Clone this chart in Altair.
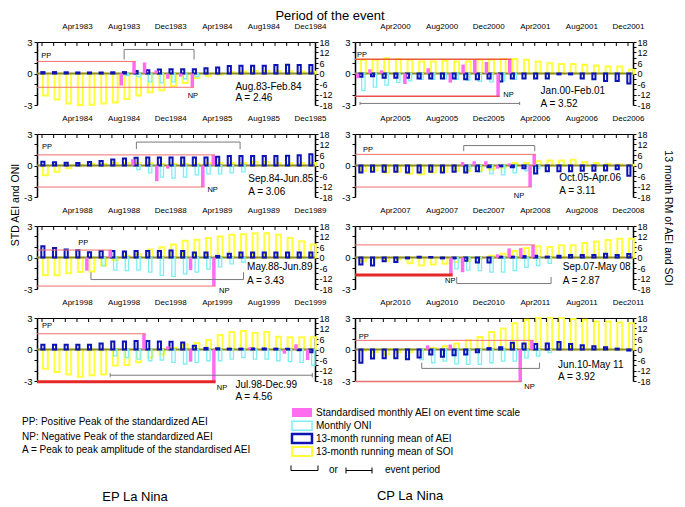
import altair as alt
import pandas as pd

FONT = "Liberation Sans"

# ---------------- data ----------------
panel_years = [(1983, 1984), (1984, 1985), (1988, 1989), (1998, 1999),
               (2000, 2001), (2005, 2006), (2007, 2008), (2010, 2011)]
label_months = [3, 7, 11, 15, 19, 23]
label_names = ["Apr", "Aug", "Dec", "Apr", "Aug", "Dec"]
event_periods = ["Aug.83-Feb.84", "Sep.84-Jun.85", "May.88-Jun.89", "Jul.98-Dec.99",
                 "Jan.00-Feb.01", "Oct.05-Apr.06", "Sep.07-May 08", "Jun.10-May 11"]
amplitudes = ["2.46", "3.06", "3.43", "4.56", "3.52", "3.11", "2.87", "3.92"]

# 13-month running mean of SOI (right axis), Jan of first year .. Dec of second year
soi_1983 = [-12.6, -14.9, -17.2, -18, -17.8, -17.2, -16.5, -14.6, -12.6, -10.7, -9.6, -7.2,
            -5.4, -2.5, -1.5, -0.6, 0.8, 1.2, 1.5, 1.5, 1.5, 1.5, 1.2, 1.0]
soi_1984 = [-5.5, -3.5, -1.5, 0.5, 1, 1, 1.5, 1.5, 1.5, 1.5, 1, 1,
            1, 1, 1.5, 1.5, 1.5, 1.5, 2, 2, 1.5, 1.5, 1.5, 1.5]
soi_1988 = [-10, -10.2, -9, -8.3, -8, -4.6, -1.5, 1, 2.2, 4.6, 5.9, 7.4,
            9.6, 10.2, 11.1, 12, 13, 13.3, 13.9, 13.9, 13, 11.1, 9.3, 7.4]
soi_1998 = [-11, -12.8, -14.3, -15.6, -14.7, -14.3, -9.2, -8.8, -7.3, -4.6, -2.8, 1,
            2.8, 3.7, 5.5, 8.3, 10, 10.6, 9.5, 10, 7.3, 7, 7, 7]
soi_2000 = [7.8, 7.8, 8.7, 8.3, 7.8, 6.9, 6.9, 7.2, 6.9, 6.9, 7.8, 7.8,
            8.3, 8.3, 7.8, 6.9, 5.9, 5.4, 5.4, 5.0, 4.6, 4.0, 4.0, 2.2]
soi_2005 = [-3.1, -2.8, -4.0, -3.5, -4.6, -5.0, -4.0, -3.5, -3.1, -3.1, -2.8, -2.2,
            -1.3, 1.5, 1.5, 2.4, 2.8, 2.8, 3.3, 2.0, 1.5, 1.0, 0.6, 0.4]
soi_2007 = [-2.2, -0.5, -2.0, -1.0, -3.3, -4.6, -4.0, -3.5, -2.5, -1.9, -0.5, 1.0,
            2.2, 3.7, 5.5, 6.5, 6.0, 7.0, 7.0, 8.3, 9.2, 10.0, 10.7, 10.7]
soi_2010 = [-0.5, -1.5, -2.8, -1.5, -1.5, -0.4, 0.9, 1.8, 3.4, 5.3, 7.2, 10,
            12, 15, 17, 18, 18, 18, 17.5, 17, 16, 16, 15.5, 15]

# 13-month running mean of AEI (right axis)
aei_1983 = [0.8, 0.8, 0.7, 0.6, 0.6, 0.6, 0.7, 0.8, 1.5, 1.9, 2.3, 2.5,
            2.5, 2.5, 3.0, 3.5, 4.3, 4.5, 4.5, 4.5, 4.8, 5.0, 4.8, 4.8]
aei_1984 = [2.2, 1.8, 1.6, 1.4, 2.0, 2.6, 3.4, 4.0, 4.4, 4.6, 4.6, 4.6,
            4.6, 4.6, 4.6, 5.0, 5.4, 5.4, 5.4, 5.4, 5.4, 5.6, 5.8, 6.4]
aei_1988 = [6.5, 5.5, 4.6, 4.1, 3.0, 3.7, 3.7, 3.5, 3.7, 3.7, 3.7, 4.0,
            3.7, 2.8, 2.8, 0.9, 2.2, 2.8, 2.8, 2.8, 2.8, 2.8, 2.8, 2.8]
aei_1998 = [2.75, 2.75, 2.75, 2.75, 2.75, 3.5, 4.6, 4.6, 4.8, 4.8, 4.6, 4.4,
            4.0, 2.2, 0.9, 0.7, 0.5, 0.5, 0.6, 0.6, 0.5, 0.4, -0.4, -1.5]
aei_2000 = [-1.85, -1.5, -2.4, -2.4, -2.4, -2.8, -2.9, -2.9, -2.8, -3.3, -3.3, -2.8,
            -4.6, -2.8, -2.8, -2.8, -2.8, -0.5, -0.5, -2.8, -3.3, -4.3, -4.3, -5.7]
aei_2005 = [-4.0, -3.5, -3.5, -3.5, -4.0, -4.0, -3.5, -4.0, -3.5, -4.0, -3.3, -1.0,
            -0.5, -1.0, -1.5, -4.6, -3.3, -3.3, -3.3, -3.0, -3.0, -2.8, -2.2, -5.9]
aei_2007 = [-4.0, -4.6, -2.2, -2.5, -0.5, 0.5, 0.3, -0.5, -0.5, -1.9, -2.8, -2.8,
            0.5, 0.5, 0.8, 1.0, 0.5, 1.0, 1.5, 1.5, 1.5, 2.2, 1.5, 2.0]
aei_2010 = [-7.5, -5.2, -5.0, -5.0, -5.5, -4.6, -2.8, -4.1, -3.3, -2.8, -1.5, 0.8,
            1.3, 3.8, 3.5, 3.2, 3.5, 4.3, 3.2, 2.5, 1.9, 1.3, 0.5, -0.6]

# monthly ONI (left axis), only inside the event window
oni_1983 = [None, None, None, None, None, None, None, -0.2, -0.3, -0.8, -0.9, -0.8,
            -0.5, -0.3, None, None, None, None, None, None, None, None, None, None]
oni_1984 = [None, None, None, None, None, None, None, None, -0.4, -0.7, -1.1, -1.2,
            -1.1, -0.9, -0.8, -0.8, -0.7, -0.6, None, None, None, None, None, None]
oni_1988 = [None, None, None, None, None, -0.8, -1.2, -1.25, -1.2, -1.4, -1.7, -1.8,
            -1.55, -1.4, -1.1, -0.9, -0.6, -0.45, None, None, None, None, None, None]
oni_1998 = [None, None, None, None, None, None, -0.6, -0.76, -0.92, -1.07, -1.0, -1.22,
            -1.38, -1.22, -1.07, -1.07, -0.92, -0.76, -0.92, -0.92, -1.07, -1.15, -1.22, -1.5]
oni_2000 = [-1.6, -1.3, -1.1, -0.85, -0.7, -0.55, -0.55, -0.5, -0.55, -0.65, -0.75, -0.8,
            -0.7, -0.55, None, None, None, None, None, None, None, None, None, None]
oni_2005 = [None, None, None, None, None, None, None, None, None, -0.4, -0.6, -0.8,
            -0.9, -0.7, -0.5, -0.3, None, None, None, None, None, None, None, None]
oni_2007 = [None, None, None, None, None, None, None, None, -1.08, -1.2, -1.25, -1.4,
            -1.4, -1.25, -0.93, -0.77, -0.55, None, None, None, None, None, None, None]
oni_2010 = [None, None, None, None, None, -0.95, -1.26, -1.1, -1.36, -1.42, -1.42, -1.26,
            -1.1, -1.1, -0.8, -0.63, -0.3, None, None, None, None, None, None, None]

# standardised monthly AEI on event time scale (left axis): month position, value
std_x_1983 = [6.8, 7.9, 8.8, 9.8, 10.8, 11.9, 12.9]
std_v_1983 = [-1.15, 1.15, 1.05, 0.3, -0.5, -0.3, -1.31]
std_x_1984 = [7.8, 9.85, 10.8, 13.8, 14.7]
std_v_1984 = [0.6, -1.5, -0.3, -2.05, 1.01]
std_x_1988 = [3.85, 5.85, 12.75, 14.75]
std_v_1988 = [-1.25, 0.71, -1.2, -2.72]
std_x_1998 = [8.75, 10.8, 12.75, 14.75, 17.8, 20.8, 21.8, 22.8]
std_v_1998 = [1.5, 0.3, -1.16, -3.06, 0.2, -0.4, 0.5, -1.0]
std_x_2000 = [-0.2, 0.85, 1.85, 3.85, 5.85, 7.75, 8.85, 9.85, 10.85, 11.85, 12.85]
std_v_2000 = [-0.45, 0.4, 0.3, -1.0, 0.5, -0.87, 0.84, 1.3, 1.1, -2.17, 1.35]
std_x_2005 = [8.8, 9.8, 10.8, 11.8, 12.8, 14.6, 14.95]
std_v_2005 = [0.33, 0.4, 0.4, -0.3, 0.2, -2.05, 1.06]
std_x_2007 = [7.8, 8.8, 11.8, 12.8, 13.8, 14.85]
std_v_2007 = [-1.67, -1.4, 0.3, 0.87, 0.9, 1.2]
std_x_2010 = [5.8, 7.75, 13.75, 14.75]
std_v_2010 = [0.4, 0.47, -3.05, 0.87]

# event-period brackets: start month, end month
bracket_start = [7.05, 8.1, 4.2, 5.85, 0.0, 8.9, 8.3, 5.3]
bracket_end = [13.05, 17.0, 17.3, 23.2, 13.7, 15.0, 16.4, 15.4]

soi_all = [soi_1983, soi_1984, soi_1988, soi_1998, soi_2000, soi_2005, soi_2007, soi_2010]
aei_all = [aei_1983, aei_1984, aei_1988, aei_1998, aei_2000, aei_2005, aei_2007, aei_2010]
oni_all = [oni_1983, oni_1984, oni_1988, oni_1998, oni_2000, oni_2005, oni_2007, oni_2010]
stdx_all = [std_x_1983, std_x_1984, std_x_1988, std_x_1998, std_x_2000, std_x_2005, std_x_2007, std_x_2010]
stdv_all = [std_v_1983, std_v_1984, std_v_1988, std_v_1998, std_v_2000, std_v_2005, std_v_2007, std_v_2010]

# ---------------- layout / style (not data) ----------------
W, H = 278, 63
X0, X1 = -0.43, 23.43
YELLOW, CYAN, BLUE, MAGENTA = "#ffff3c", "#7eeef4", "#0c14b4", "#ff6cf0"
OLIVE, RED_THIN, RED_THICK, GRAY = "#8c8c28", "#f07070", "#e42828", "#7a7a7a"

bracket_style = [("top", 2.29, 1.33), ("top", 2.23, 1.56), ("bottom", -2.1, -1.4), ("bar", -2.45, 0.2),
                 ("bar", -2.85, 0.15), ("top", 1.9, 1.36), ("bottom", -2.48, -1.86), ("bottom", -1.8, -1.25)]
period_pos = [(16.6, -1.27, -2.32), (17.7, -1.27, -2.5), (17.6, -0.92, -2.26), (16.6, -3.4, -4.54),
              (15.5, -1.65, -2.9), (17.1, -1.18, -2.45), (17.4, -0.95, -2.2), (17.0, -1.46, -2.6)]
pp_pos = [(-0.06, 1.69), (0.0, 1.78), (3.1, 1.36), (0.0, 2.2), (-0.26, 1.78), (0.26, 1.52), None, (-0.1, 1.18)]
np_pos = [(12.9, -2.15), (14.6, -2.34), (15.6, -3.18), (15.4, -3.66), (12.7, -2.06), (13.6, -2.93),
          (7.7, -2.23), (14.5, -3.6)]
red_style = [(1, 1, RED_THIN, RED_THIN), (1, 1, RED_THIN, RED_THIN), (1, 1, RED_THIN, RED_THIN),
             (1, 3, RED_THIN, RED_THICK), (1.5, 1.5, "#e85a3a", "#e85050"), (1, 1, RED_THIN, RED_THIN),
             (1, 3, RED_THIN, RED_THICK), (1, 1.5, RED_THIN, "#e87070")]

XS = alt.Scale(domain=[X0, X1], nice=False, zero=False)
LS = alt.Scale(domain=[-3, 3], nice=False, zero=False)
RS = alt.Scale(domain=[-18, 18], nice=False, zero=False)

LEFT_AXIS = alt.Axis(orient="left", values=[-3, -2, -1, 0, 1, 2, 3],
                     labelExpr="datum.value % 3 == 0 ? '' + datum.value : ''",
                     tickSize=3, tickColor="black", domainColor="black", domainWidth=1.5,
                     labelFontSize=9.5, labelFont=FONT, labelColor="black", labelPadding=2,
                     labelOverlap=False, labelFlush=False, grid=False, title="")
RIGHT_AXIS = alt.Axis(orient="right", values=list(range(-18, 19, 3)),
                      labelExpr="datum.value % 6 == 0 ? '' + datum.value : ''",
                      tickSize=3, tickColor="black", domainColor="black", domainWidth=1.5,
                      labelFontSize=9, labelFont=FONT, labelColor="black", labelPadding=1,
                      labelOverlap=False, labelFlush=False, grid=False, title="")

ONE = pd.DataFrame({"a": [0]})


def top_axis(k):
    y1, y2 = panel_years[k]
    labels = [f"{n}{y1 if j < 3 else y2}" for j, n in enumerate(label_names)]
    expr = "[" + ",".join(f"'{s}'" for s in labels) + "][round((datum.value - 3) / 4)]"
    return alt.Axis(orient="top", values=label_months, labelExpr=expr, ticks=False, tickSize=0,
                    domain=True, domainColor="black", domainWidth=1, labelFontSize=8, labelFont=FONT,
                    labelColor="black", labelPadding=12, labelFlush=False, labelOverlap=False,
                    grid=False, title="")


def ptext(text, x, y, size=10, align="left", angle=None):
    kw = dict(text=text, align=align, baseline="middle", fontSize=size, font=FONT, color="black")
    if angle is not None:
        kw["angle"] = angle
    return alt.Chart(ONE).mark_text(**kw).encode(x=alt.value(x), y=alt.value(y))


def prect(x1, x2, y1, y2, **kw):
    return alt.Chart(ONE).mark_rect(**kw).encode(x=alt.value(x1), x2=alt.value(x2),
                                                 y=alt.value(y1), y2=alt.value(y2))


def prule(x1, x2, y1, y2, color="black", width=1):
    return alt.Chart(ONE).mark_rule(color=color, strokeWidth=width).encode(
        x=alt.value(x1), x2=alt.value(x2), y=alt.value(y1), y2=alt.value(y2))


def panel(k, extra=()):
    xa = top_axis(k)

    def X(f):
        return alt.X(f, type="quantitative", scale=XS, axis=xa)

    df = pd.DataFrame({"i": list(range(24)), "soi": soi_all[k], "aei": aei_all[k], "oni": oni_all[k]})

    yellow = alt.Chart(df).transform_calculate(xa="datum.i + 0.08", xb="datum.i + 0.5").mark_rect(
        fillOpacity=0, stroke=YELLOW, strokeWidth=2).encode(
        x=X("xa"), x2="xb:Q", y=alt.Y("soi:Q", scale=RS, axis=RIGHT_AXIS), y2=alt.datum(0))

    zero = alt.Chart(ONE).mark_rule(color=OLIVE, strokeWidth=2).encode(
        x=alt.value(0), x2=alt.value(W),
        y=alt.YDatum(0, type="quantitative", scale=LS, axis=LEFT_AXIS))

    cyan = alt.Chart(df).transform_filter("isValid(datum.oni)").transform_calculate(
        xa="datum.i + 0.14", xb="datum.i + 0.43").mark_rect(
        fillOpacity=0, stroke=CYAN, strokeWidth=1.3).encode(
        x=X("xa"), x2="xb:Q", y=alt.Y("oni:Q", scale=LS, axis=None), y2=alt.datum(0))

    blue = alt.Chart(df).transform_calculate(xa="datum.i - 0.06", xb="datum.i + 0.21").mark_rect(
        fillOpacity=0, stroke=BLUE, strokeWidth=2).encode(
        x=X("xa"), x2="xb:Q", y=alt.Y("aei:Q", scale=RS, axis=None), y2=alt.datum(0))

    sx, sv = stdx_all[k], stdv_all[k]
    dm = pd.DataFrame({"m": sx, "v": sv})
    mag = alt.Chart(dm).transform_calculate(xa="datum.m - 0.15", xb="datum.m + 0.15").mark_rect(
        color=MAGENTA).encode(x=X("xa"), x2="xb:Q", y=alt.Y("v:Q", scale=LS, axis=None), y2=alt.datum(0))

    ipp = max(range(len(sv)), key=lambda j: sv[j])
    inp = min(range(len(sv)), key=lambda j: sv[j])
    wp, wn, cp, cn = red_style[k]
    dr = pd.DataFrame({"xa": [X0, X0], "xb": [sx[ipp] + 0.15, sx[inp] + 0.15],
                       "y": [sv[ipp], sv[inp]], "w": [wp, wn], "c": [cp, cn]})
    red = alt.Chart(dr).mark_rule().encode(
        x=X("xa"), x2="xb:Q", y=alt.Y("y:Q", scale=LS, axis=None),
        size=alt.Size("w:Q", scale=None), color=alt.Color("c:N", scale=None))

    kind, yh, yt = bracket_style[k]
    b0, b1 = bracket_start[k], bracket_end[k]
    if kind == "bar":
        segs = [(b0, b1, yh, yh), (b0, b0, yh - yt, yh + yt), (b1, b1, yh - yt, yh + yt)]
    else:
        segs = [(b0, b1, yh, yh), (b0, b0, yh, yt), (b1, b1, yh, yt)]
    db = pd.DataFrame(segs, columns=["x1", "x2", "y1", "y2"])
    br = alt.Chart(db).mark_rule(color=GRAY, strokeWidth=1).encode(
        x=X("x1"), x2="x2:Q", y=alt.Y("y1:Q", scale=LS, axis=None), y2="y2:Q")

    mt = alt.Chart(df).mark_rule(color="black", strokeWidth=1).encode(
        x=X("i"), y=alt.value(0), y2=alt.value(4))

    px, py1, py2 = period_pos[k]
    dt = pd.DataFrame({"x": [px, px], "y": [py1, py2], "t": [event_periods[k], "A = " + amplitudes[k]]})
    txt = alt.Chart(dt).mark_text(align="left", baseline="middle", fontSize=10, font=FONT,
                                  color="black").encode(
        x=X("x"), y=alt.Y("y:Q", scale=LS, axis=None), text="t:N")

    lab_rows = []
    if pp_pos[k] is not None:
        lab_rows.append({"x": pp_pos[k][0], "y": pp_pos[k][1], "t": "PP"})
    lab_rows.append({"x": np_pos[k][0] - 0.4, "y": np_pos[k][1], "t": "NP"})
    dl = pd.DataFrame(lab_rows)
    labs = alt.Chart(dl).mark_text(align="left", baseline="middle", fontSize=7.5, font=FONT,
                                   color="black").encode(
        x=X("x"), y=alt.Y("y:Q", scale=LS, axis=None), text="t:N")

    layers = [yellow, zero, cyan, blue, mag, red, br, mt, txt, labs] + list(extra)
    return alt.layer(*layers).resolve_scale(y="independent").properties(width=W, height=H)


# extras (pixel placement relative to each panel's plot origin)
extra_p1 = [ptext("Period of the event", 293, -26, size=13, align="center")]
extra_p2 = [ptext("STD AEI and ONI", -21, 71, size=10.5, align="center", angle=270)]
extra_p6 = [ptext("13 month RM of AEI and SOI", 313, 84, size=10.5, align="center", angle=90)]

legend_texts = ["Standardised monthly AEI on event time scale", "Monthly ONI",
                "13-month running mean of AEI", "13-month running mean of SOI"]
rows_y = [94.5, 107.8, 120.5, 133.5]
extra_p4 = [
    ptext("PP: Positive Peak of the standardized AEI", -15, 103.7),
    ptext("NP: Negative Peak of the standardized AEI", -15, 118.7),
    ptext("A = Peak to peak amplitude of the standardised AEI", -15, 132),
    prect(255, 275, rows_y[0] - 4.5, rows_y[0] + 4.5, color=MAGENTA),
    prect(255, 275, rows_y[1] - 4.5, rows_y[1] + 4.5, fillOpacity=0, stroke=CYAN, strokeWidth=1.5),
    prect(255, 275, rows_y[2] - 4.5, rows_y[2] + 4.5, fillOpacity=0, stroke=BLUE, strokeWidth=2.5),
    prect(255, 275, rows_y[3] - 4.5, rows_y[3] + 4.5, fillOpacity=0, stroke=YELLOW, strokeWidth=2),
] + [ptext(t, 279, y) for t, y in zip(legend_texts, rows_y)] + [
    prule(254, 281, 152.5, 152.5), prule(254, 254, 147.5, 152.5), prule(281, 281, 147.5, 152.5),
    ptext("or", 292, 151.5),
    prule(309, 335, 152.5, 152.5), prule(309, 309, 149.5, 155.5), prule(335, 335, 149.5, 155.5),
    ptext("event period", 348, 151.5),
    ptext("EP La Nina", 98, 178.5, size=13, align="center"),
]
extra_p8 = [ptext("CP La Nina", 55, 177.5, size=13, align="center")]

extras = {0: extra_p1, 1: extra_p2, 3: extra_p4, 5: extra_p6, 7: extra_p8}

order = [0, 4, 1, 5, 2, 6, 3, 7]
panels = [panel(k, extras.get(k, ())) for k in order]
chart = alt.concat(*panels, columns=2, spacing={"row": 29, "column": 40}, bounds="flush").properties(
    padding={"left": 3, "right": 3, "top": 2, "bottom": 0}).configure_view(strokeWidth=0)

chart.save("out.html", embed_options={"renderer": "svg", "actions": False})
